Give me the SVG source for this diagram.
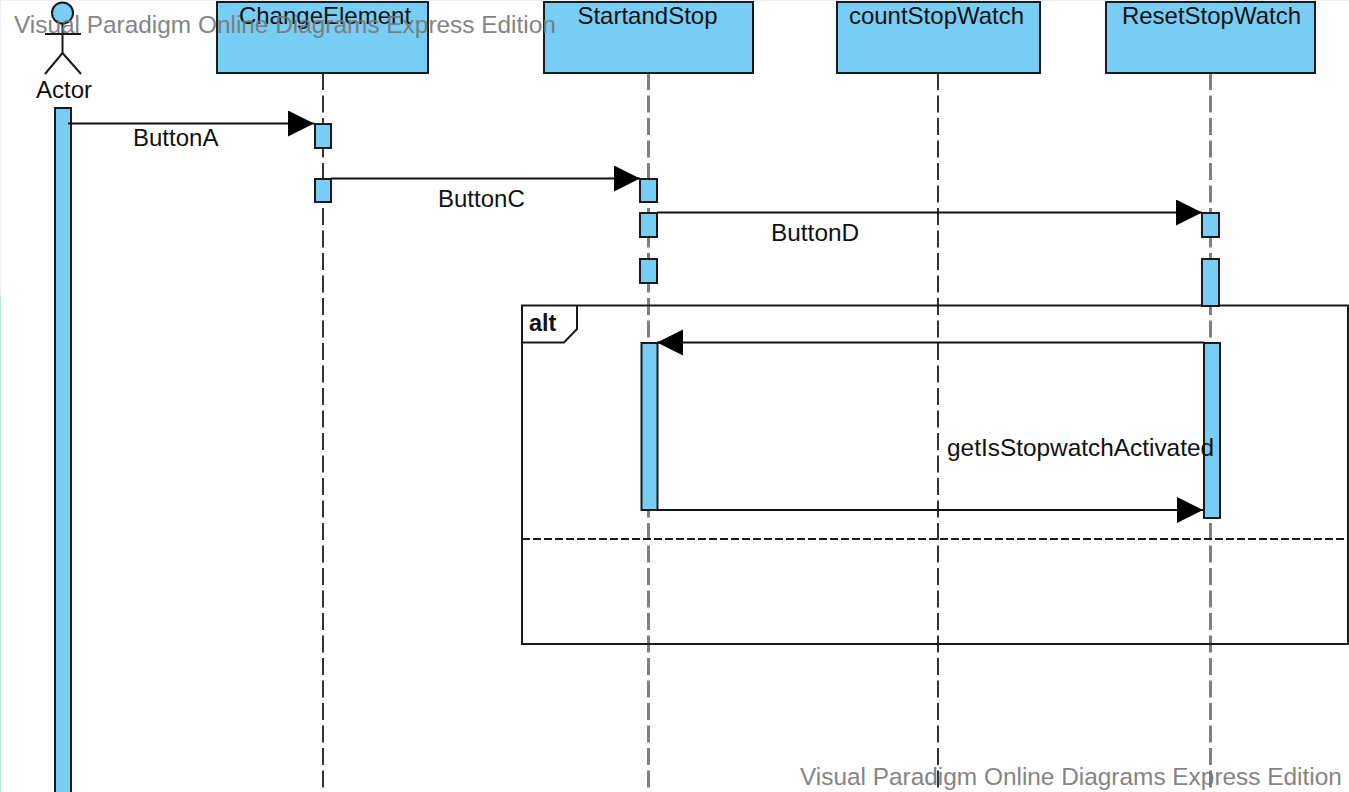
<svg xmlns="http://www.w3.org/2000/svg" width="1349" height="792" viewBox="0 0 1349 792">
<style>
text{font-family:"Liberation Sans",Arial,sans-serif;font-size:24px;fill:#111}
.b{fill:#78cdf5;stroke:#1a1a1a;stroke-width:2}
.l{fill:none;stroke:#1a1a1a;stroke-width:2}
.ll{fill:none;stroke:#333;stroke-width:2;stroke-dasharray:17 5.500}
.lg{fill:none;stroke:#808080;stroke-width:3;stroke-dasharray:17 5.500}
.m{fill:none;stroke:#111;stroke-width:2;marker-end:url(#a)}
.w{fill:#777;font-size:24.400px;opacity:.9}
</style>
<defs><marker id="a" markerUnits="userSpaceOnUse" markerWidth="28" markerHeight="28" refX="26" refY="13" orient="auto"><path d="M0 0L26 13L0 26Z" fill="#000"/></marker></defs>
<rect width="1349" height="792" fill="#fff"/>
<rect x="0" y="0" width="1349" height="1" fill="#f0f0f0"/>
<rect x="0" y="0" width="1" height="295" fill="#f0f0f0"/>
<rect x="0" y="295" width="1" height="497" fill="#9ff0cc"/>
<g id="lifelines">
<path class="ll" d="M323 73V792"/>
<path class="lg" d="M648.500 73V792"/>
<path class="ll" d="M938 73V792"/>
<path class="lg" d="M1210.500 73V792"/>
</g>
<g id="frame-alt">
<path class="l" d="M522 305.500H1348V644H522Z"/>
<path class="l" d="M522 342.500H564L577 329V305.500"/>
<path class="l" style="stroke-dasharray:8 3" d="M522 539H1348"/>
<text x="529" y="331" style="font-weight:700;font-size:23.500px">alt</text>
</g>
<g id="actor">
<circle class="b" cx="62.500" cy="13" r="10.500"/>
<path class="l" d="M45 34H81M62.500 24V53M62.500 53L45 74M62.500 53L81 74"/>
<text x="64" y="97.500" text-anchor="middle">Actor</text>
<rect class="b" x="55" y="108" width="16" height="690"/>
</g>
<g id="ChangeElement">
<rect class="b" x="217" y="2" width="211" height="71"/>
<text x="325" y="23.500" text-anchor="middle">ChangeElement</text>
<rect class="b" x="315" y="124" width="16" height="24"/>
<rect class="b" x="315" y="179" width="16" height="23"/>
</g>
<g id="StartandStop">
<rect class="b" x="544" y="2" width="209" height="71"/>
<text x="647.500" y="23.500" text-anchor="middle">StartandStop</text>
<rect class="b" x="640" y="179" width="17" height="23"/>
<rect class="b" x="640" y="213" width="17" height="24"/>
<rect class="b" x="640" y="259" width="17" height="24"/>
<rect class="b" x="641.500" y="343" width="16" height="167"/>
</g>
<g id="countStopWatch">
<rect class="b" x="837" y="2" width="203" height="71"/>
<text x="936.500" y="23.500" text-anchor="middle">countStopWatch</text>
</g>
<g id="ResetStopWatch">
<rect class="b" x="1106" y="2" width="209" height="71"/>
<text x="1211.500" y="23.500" text-anchor="middle">ResetStopWatch</text>
<rect class="b" x="1202" y="213" width="17" height="24"/>
<rect class="b" x="1202" y="259" width="17" height="47"/>
<rect class="b" x="1204" y="343" width="16" height="175"/>
</g>
<g id="connectors">
<path class="m" d="M68 123.500H314"/>
<path class="m" d="M331 178.500H640"/>
<path class="m" d="M657 212.500H1202"/>
<path class="m" d="M1204 342.500H657"/>
<path class="m" d="M658 510H1203"/>
<text x="133" y="146">ButtonA</text>
<text x="438" y="207">ButtonC</text>
<text x="771" y="241" style="font-size:24.400px">ButtonD</text>
<text x="947" y="456" style="font-size:24.400px">getIsStopwatchActivated</text>
</g>
<g id="watermarks">
<text class="w" x="14" y="33">Visual Paradigm Online Diagrams Express Edition</text>
<text class="w" x="800" y="784.500">Visual Paradigm Online Diagrams Express Edition</text>
</g>
</svg>
